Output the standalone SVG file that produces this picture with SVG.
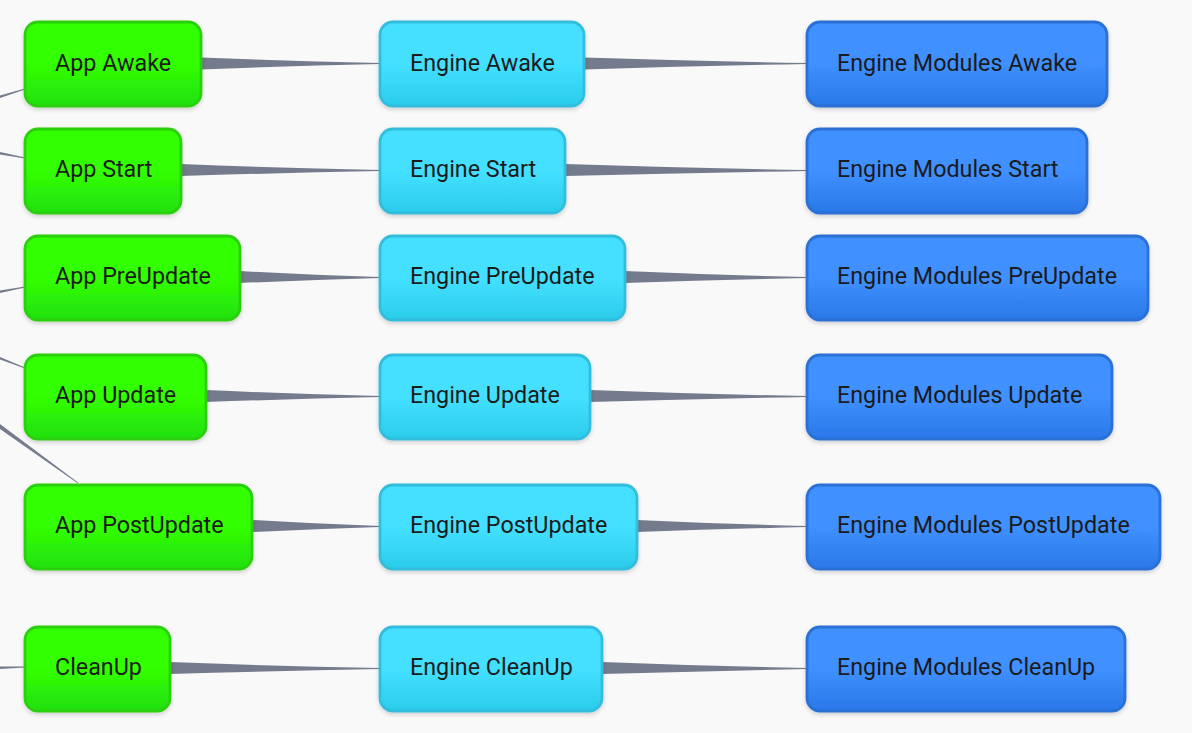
<svg xmlns="http://www.w3.org/2000/svg" width="1192" height="733" viewBox="0 0 1192 733">
<defs>
<linearGradient id="gG" x1="0" y1="0" x2="0" y2="1"><stop offset="0.5" stop-color="#33ff00"/><stop offset="1" stop-color="#22e011"/></linearGradient>
<linearGradient id="gC" x1="0" y1="0" x2="0" y2="1"><stop offset="0.5" stop-color="#44e0ff"/><stop offset="1" stop-color="#2accea"/></linearGradient>
<linearGradient id="gB" x1="0" y1="0" x2="0" y2="1"><stop offset="0.5" stop-color="#4090ff"/><stop offset="1" stop-color="#2a78e8"/></linearGradient>
<filter id="sh" x="-10%" y="-10%" width="120%" height="130%"><feDropShadow dx="0" dy="2" stdDeviation="2" flood-color="#000" flood-opacity="0.18"/></filter>
<style>
.g rect{fill:url(#gG);stroke:#2bd00c;stroke-width:2.8}
.c rect{fill:url(#gC);stroke:#33bddd;stroke-width:2.8}
.b rect{fill:url(#gB);stroke:#2a6fd6;stroke-width:2.8}
.n rect{filter:url(#sh)}
.n text{font-family:Roboto,"Liberation Sans",sans-serif;font-size:23.3px;fill:#1b1b1b}
.e{fill:#737b8c}
</style>
</defs>
<rect width="1192" height="733" fill="#f9f9f9"/>
<g id="connectors">
<path class="e" d="M0 95.5 L25 88.5 L25 89.5 L0 98 Z"/>
<path class="e" d="M0 152 L25 157.5 L25 158.5 L0 154.5 Z"/>
<path class="e" d="M0 290.5 L25 286.5 L25 287.5 L0 293 Z"/>
<path class="e" d="M0 357 L25 367.5 L25 368.5 L0 359.5 Z"/>
<path class="e" d="M0 424 L78 482.5 L78 483.5 L0 429 Z"/>
<path class="e" d="M0 666.5 L25 666.5 L25 667.5 L0 669 Z"/>
<path class="e" d="M201 57.5 Q290 61 380 63 L380 64 Q290 66 201 69.5 Z"/>
<path class="e" d="M584 57.5 Q695 61 807 63 L807 64 Q695 66 584 69.5 Z"/>
<path class="e" d="M181 164 Q280 168 380 170 L380 171 Q280 173 181 176 Z"/>
<path class="e" d="M565 164 Q686 168 807 170 L807 171 Q686 173 565 176 Z"/>
<path class="e" d="M240 271 Q310 275 380 277 L380 278 Q310 280 240 283 Z"/>
<path class="e" d="M625 271 Q716 275 807 277 L807 278 Q716 280 625 283 Z"/>
<path class="e" d="M206 390 Q293 394 380 396 L380 397 Q293 399 206 402 Z"/>
<path class="e" d="M590 390 Q698 394 807 396 L807 397 Q698 399 590 402 Z"/>
<path class="e" d="M252 520 Q316 524 380 526 L380 527 Q316 529 252 532 Z"/>
<path class="e" d="M637 520 Q722 524 807 526 L807 527 Q722 529 637 532 Z"/>
<path class="e" d="M170 662 Q275 666 380 668 L380 669 Q275 671 170 674 Z"/>
<path class="e" d="M602 662 Q704 666 807 668 L807 669 Q704 671 602 674 Z"/>
</g>
<g id="app-awake" class="n g"><rect x="25" y="22" width="176" height="84" rx="13"/><text x="55" y="71">App Awake</text></g>
<g id="app-start" class="n g"><rect x="25" y="129" width="156" height="84" rx="13"/><text x="55" y="177">App Start</text></g>
<g id="app-preupdate" class="n g"><rect x="25" y="236" width="215" height="84" rx="13"/><text x="55" y="284">App PreUpdate</text></g>
<g id="app-update" class="n g"><rect x="25" y="355" width="181" height="84" rx="13"/><text x="55" y="403">App Update</text></g>
<g id="app-postupdate" class="n g"><rect x="25" y="485" width="227" height="84" rx="13"/><text x="55" y="533">App PostUpdate</text></g>
<g id="cleanup" class="n g"><rect x="25" y="627" width="145" height="84" rx="13"/><text x="55" y="675">CleanUp</text></g>
<g id="engine-awake" class="n c"><rect x="380" y="22" width="204" height="84" rx="13"/><text x="410" y="71">Engine Awake</text></g>
<g id="engine-start" class="n c"><rect x="380" y="129" width="185" height="84" rx="13"/><text x="410" y="177">Engine Start</text></g>
<g id="engine-preupdate" class="n c"><rect x="380" y="236" width="245" height="84" rx="13"/><text x="410" y="284">Engine PreUpdate</text></g>
<g id="engine-update" class="n c"><rect x="380" y="355" width="210" height="84" rx="13"/><text x="410" y="403">Engine Update</text></g>
<g id="engine-postupdate" class="n c"><rect x="380" y="485" width="257" height="84" rx="13"/><text x="410" y="533">Engine PostUpdate</text></g>
<g id="engine-cleanup" class="n c"><rect x="380" y="627" width="222" height="84" rx="13"/><text x="410" y="675">Engine CleanUp</text></g>
<g id="modules-awake" class="n b"><rect x="807" y="22" width="300" height="84" rx="13"/><text x="837" y="71">Engine Modules Awake</text></g>
<g id="modules-start" class="n b"><rect x="807" y="129" width="280" height="84" rx="13"/><text x="837" y="177">Engine Modules Start</text></g>
<g id="modules-preupdate" class="n b"><rect x="807" y="236" width="341" height="84" rx="13"/><text x="837" y="284">Engine Modules PreUpdate</text></g>
<g id="modules-update" class="n b"><rect x="807" y="355" width="305" height="84" rx="13"/><text x="837" y="403">Engine Modules Update</text></g>
<g id="modules-postupdate" class="n b"><rect x="807" y="485" width="353" height="84" rx="13"/><text x="837" y="533">Engine Modules PostUpdate</text></g>
<g id="modules-cleanup" class="n b"><rect x="807" y="627" width="318" height="84" rx="13"/><text x="837" y="675">Engine Modules CleanUp</text></g>
</svg>
